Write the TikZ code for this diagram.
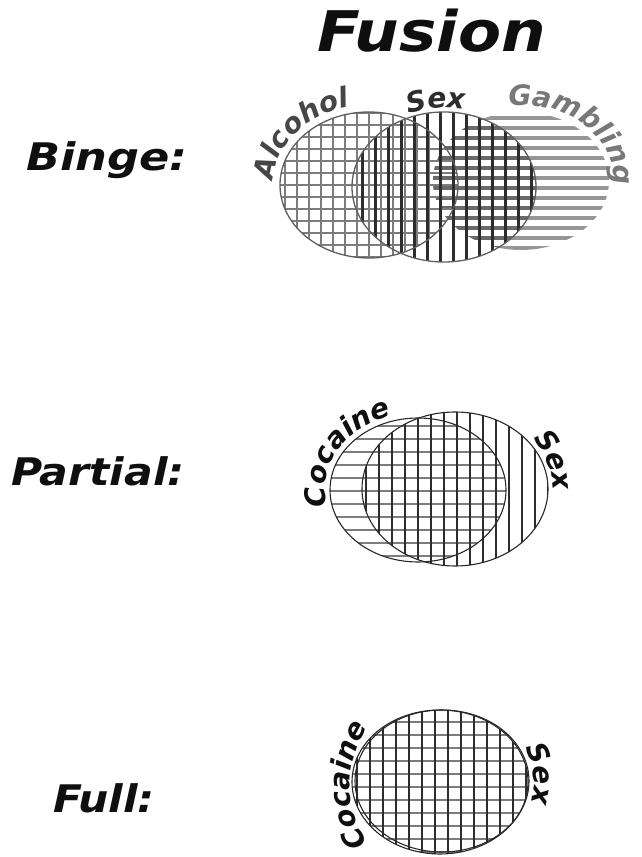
\documentclass[tikz,border=0pt]{standalone}
\usepackage{fontspec}
\usepackage{xcolor}
\usepackage{tikz}
\usetikzlibrary{decorations.text}
\newfontfamily\fusionfont{DejaVu Sans}[FakeStretch=1.12]
\newfontfamily\fusionarcfont{DejaVu Sans}
\newcommand\arcfont{\fusionarcfont\bfseries\itshape\fontsize{28}{28}\selectfont}
\definecolor{fuink}{RGB}{15,15,15}
\definecolor{fubar}{RGB}{45,45,45}
\definecolor{fugrid}{RGB}{125,125,125}
\definecolor{fustripe}{RGB}{150,150,150}
\definecolor{fustripedk}{RGB}{105,105,105}
\definecolor{furim}{RGB}{95,95,95}
\definecolor{furimdk}{RGB}{40,40,40}
\definecolor{fualc}{RGB}{70,70,70}
\definecolor{fugamb}{RGB}{120,120,120}
\tikzset{
  lbl/.style={font=\fusionfont\bfseries\itshape\fontsize{38}{38}\selectfont, text=fuink, inner sep=0pt},
  ttl/.style={lbl, font=\fusionfont\bfseries\itshape\fontsize{56}{56}\selectfont},
  gridln/.style={draw=fugrid, line width=1.4pt},
  barln/.style={draw=fubar, line width=3pt},
  stripeln/.style={draw=fustripe, line width=4.5pt},
  rim/.style={draw=furim, line width=1.3pt},
  rimdk/.style={draw=furimdk, line width=1.1pt},
  arctext/.style={decorate, decoration={text along path, text align=center, text color=#1}},
  arctext/.default=fuink
}

\begin{document}
\begin{tikzpicture}[x=1pt, y=1pt]
  \useasboundingbox (0,0) rectangle (641,857);
  \node[ttl] (fusion) at (432,826) {Fusion};
  \node[lbl, xscale=1.05] (binge) at (107,697) {Binge:};
  \node[lbl] (partial) at (98,386) {Partial:};
  \node[lbl] (full) at (104,59) {Full:};

  % binge: three sets
  \begin{scope}
    \clip (521,676) ellipse[x radius=88, y radius=69];
    \foreach \y in {609,619,...,745} \draw[stripeln] (430,\y) -- (612,\y);
    \clip (444,670) ellipse[x radius=92, y radius=75];
    \foreach \y in {609,619,...,745} \draw[stripeln, draw=fustripedk] (430,\y) -- (612,\y);
  \end{scope}
  \begin{scope}
    \clip (369,672) ellipse[x radius=89, y radius=73];
    \foreach \x in {285,297,...,460} \draw[gridln] (\x,595) -- (\x,750);
    \foreach \y in {600,612,...,748} \draw[gridln] (278,\y) -- (460,\y);
  \end{scope}
  \begin{scope}
    \clip (444,670) ellipse[x radius=92, y radius=75];
    \foreach \x in {362,375,...,536} \draw[barln] (\x,592) -- (\x,748);
  \end{scope}
  \draw[rim] (369,672) ellipse[x radius=89, y radius=73];
  \draw[rim] (444,670) ellipse[x radius=92, y radius=75];
  \path[shift={(369,672)}, arctext=fualc, decoration={text={|\arcfont|Alcohol}}]
    (200:96 and 80) arc[start angle=200, end angle=82, x radius=96, y radius=80];
  \path[shift={(444,670)}, arctext=fubar, decoration={text={|\arcfont|Sex}}]
    (140:97 and 79) arc[start angle=140, end angle=50, x radius=97, y radius=79];
  \path[shift={(521,676)}, arctext=fugamb, decoration={text={|\arcfont|Gambling}}]
    (120:93 and 76) arc[start angle=120, end angle=-30, x radius=93, y radius=76];

  % partial: two sets
  \begin{scope}
    \clip (418,367) ellipse[x radius=88, y radius=72];
    \foreach \y in {301,314,...,440} \draw[gridln, line width=1.6pt] (328,\y) -- (508,\y);
  \end{scope}
  \begin{scope}
    \clip (455,368) ellipse[x radius=93, y radius=77];
    \foreach \x in {366,379,...,549} \draw[barln, line width=2.6pt] (\x,290) -- (\x,446);
  \end{scope}
  \draw[rimdk] (418,367) ellipse[x radius=88, y radius=72];
  \draw[rimdk] (455,368) ellipse[x radius=93, y radius=77];
  \path[shift={(418,367)}, arctext, decoration={text={|\arcfont|Cocaine}}]
    (220:93 and 77) arc[start angle=220, end angle=82, x radius=93, y radius=77];
  \path[shift={(455,368)}, arctext, decoration={text={|\arcfont|Sex}}]
    (60:98 and 82) arc[start angle=60, end angle=-26, x radius=98, y radius=82];

  % full: one set
  \begin{scope}
    \clip (440,75) ellipse[x radius=88, y radius=72];
    \foreach \y in {5,18,...,148} \draw[gridln, line width=1.6pt] (350,\y) -- (530,\y);
    \foreach \x in {357,370,...,529} \draw[barln, line width=2.6pt] (\x,0) -- (\x,150);
  \end{scope}
  \draw[rimdk] (440,75) ellipse[x radius=88, y radius=72];
  \draw[rimdk] (442,76) ellipse[x radius=87, y radius=71];
  \path[shift={(455,72)}, arctext, decoration={text={|\arcfont|Cocaine}}]
    (240:105) arc[start angle=240, end angle=120, radius=105];
  \path[shift={(440,75)}, arctext, decoration={text={|\arcfont|Sex}}]
    (45:94 and 78) arc[start angle=45, end angle=-35, x radius=94, y radius=78];
\end{tikzpicture}
\end{document}
